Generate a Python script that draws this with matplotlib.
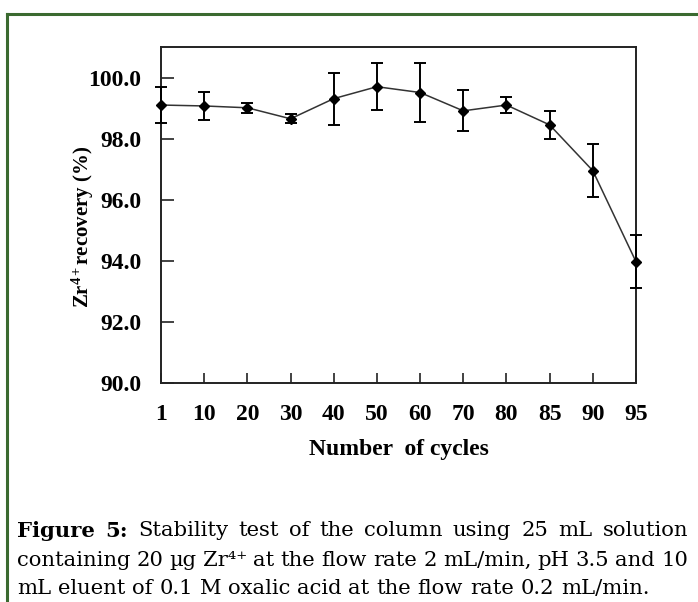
import matplotlib
matplotlib.use("Agg")
import matplotlib.pyplot as plt
from matplotlib.lines import Line2D
import numpy as np

cycles = ["1", "10", "20", "30", "40", "50", "60", "70", "80", "85", "90", "95"]
recovery = [99.10, 99.07, 99.01, 98.65, 99.31, 99.70, 99.51, 98.91, 99.10, 98.45, 96.95, 93.97]
err = [0.58, 0.45, 0.17, 0.15, 0.85, 0.77, 0.95, 0.67, 0.27, 0.45, 0.87, 0.86]
yticks = [90, 92, 94, 96, 98, 100]

plt.rcParams['mathtext.fontset'] = 'custom'
plt.rcParams['mathtext.rm'] = 'Liberation Serif'
plt.rcParams['mathtext.bf'] = 'Liberation Serif:bold'
plt.rcParams['mathtext.it'] = 'Liberation Serif:italic'

W, H = 698, 602
fig = plt.figure(figsize=(W/100, H/100), dpi=100)

def fx(px): return px / W
def fy(py): return 1 - py / H

ax = fig.add_axes([fx(161), fy(383), fx(636) - fx(161), fy(47) - fy(383)])
x = np.arange(len(cycles))
eb = ax.errorbar(x, recovery, yerr=err, fmt='none', ecolor='black', elinewidth=1.4,
                 capsize=4.5, capthick=1.4, zorder=3)
for art in eb.lines[1] + eb.lines[2]:
    art.set_clip_on(False)
ax.plot(x, recovery, color='#333333', lw=1.1, marker='D', ms=5,
        mfc='black', mec='black', zorder=4, clip_on=False)

ax.set_xlim(0, len(cycles) - 1)
ax.set_ylim(90, 101)
ax.set_xticks(x)
ax.set_xticklabels(cycles)
ax.set_yticks(yticks)
ax.set_yticklabels([f"{v:.1f}" for v in yticks])

for s in ax.spines.values():
    s.set_linewidth(1.4)
    s.set_color('#222222')

ax.tick_params(axis='both', direction='in', width=1.2, color='#222222')
ax.tick_params(axis='y', length=9, pad=14)
ax.tick_params(axis='x', length=7, pad=15)
for lab in ax.get_xticklabels() + ax.get_yticklabels():
    lab.set_fontfamily('Liberation Serif')
    lab.set_fontweight('bold')
    lab.set_fontsize(17)

ax.set_xlabel("Number  of cycles", fontfamily='Liberation Serif', fontweight='bold',
              fontsize=17, labelpad=10)
fig.text(fx(83), fy(227), r"Zr$^{\mathbf{4+}}$recovery (%)", fontfamily='Liberation Serif',
         fontweight='bold', fontsize=15, rotation=90, ha='center', va='center')

# green frame
green = '#3b6a30'
fig.add_artist(Line2D([fx(6.5), fx(6.5)], [fy(13.5), 0], color=green, lw=2.2,
                      transform=fig.transFigure))
fig.add_artist(Line2D([fx(6.5), 1], [fy(13.5), fy(13.5)], color=green, lw=2.2,
                      transform=fig.transFigure))

# caption (justified)
fig.canvas.draw()
r = fig.canvas.get_renderer()
cap_family = 'DejaVu Serif'
L, R = 17, 688

def word_width(t, fs, bold=False):
    tt = fig.text(0, 0, t, fontfamily=cap_family, fontsize=fs,
                  fontweight='bold' if bold else 'normal')
    w = tt.get_window_extent(r).width
    tt.remove()
    return w

lines = [
    ([("Figure", True), ("5:", True), ("Stability", False), ("test", False), ("of", False),
      ("the", False), ("column", False), ("using", False), ("25", False), ("mL", False),
      ("solution", False)], True, 531),
    ([("containing", False), ("20", False), ("µg", False), ("Zr⁴⁺", False), ("at", False),
      ("the", False), ("flow", False), ("rate", False), ("2", False), ("mL/min,", False),
      ("pH", False), ("3.5", False), ("and", False), ("10", False)], True, 560),
    ([("mL", False), ("eluent", False), ("of", False), ("0.1", False), ("M", False),
      ("oxalic", False), ("acid", False), ("at", False), ("the", False), ("flow", False),
      ("rate", False), ("0.2", False), ("mL/min.", False)], False, 588),
]

# fit caption font size so that the last (non-justified) line ends near x=647
last = "mL eluent of 0.1 M oxalic acid at the flow rate 0.2 mL/min."
w12 = word_width(last, 12)
cap_fs = 12 * (647 - L) / w12

space = word_width("a b", cap_fs) - word_width("ab", cap_fs)
for words, justify, ypix in lines:
    widths = [word_width(w, cap_fs, b) for w, b in words]
    if justify:
        gap = (R - L - sum(widths)) / (len(words) - 1)
    else:
        gap = space
    xp = L
    for (w, b), ww in zip(words, widths):
        fig.text(fx(xp), fy(ypix), w, fontfamily=cap_family, fontsize=cap_fs,
                 fontweight='bold' if b else 'normal', va='center', ha='left')
        xp += ww + gap

fig.savefig("out.png", dpi=100)
